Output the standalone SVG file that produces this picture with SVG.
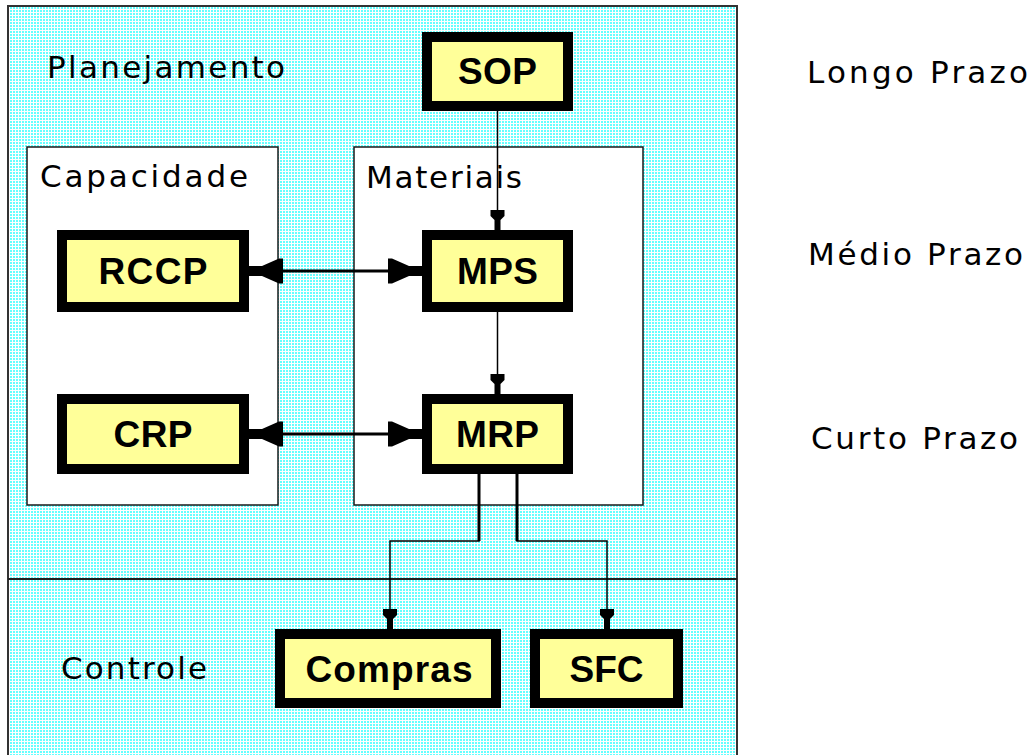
<svg xmlns="http://www.w3.org/2000/svg" width="1034" height="755" viewBox="0 0 1034 755">
  <defs>
    <pattern id="dither" patternUnits="userSpaceOnUse" x="0" y="0" width="3" height="3">
      <rect width="3" height="3" fill="#66ffff"/>
      <rect x="0" y="0" width="1" height="3" fill="#ffffff"/>
      <rect x="0" y="0" width="3" height="1" fill="#ffffff"/>
    </pattern>
    <marker id="arrSmall" markerUnits="userSpaceOnUse" markerWidth="24" markerHeight="20" viewBox="-22 -10 24 20" refX="0" refY="0" orient="auto">
      <path d="M0,-3 L-10,-3 L-14,-7 L-20,-7 L-20,7 L-14,7 L-10,3 L0,3 Z" fill="#000"/>
    </marker>
    <marker id="arrBig" markerUnits="userSpaceOnUse" markerWidth="40" markerHeight="30" viewBox="-36 -15 40 30" refX="0" refY="0" orient="auto-start-reverse">
      <path d="M0,-5 L-13,-5 L-30,-12.5 L-34,-12.5 L-34,12.5 L-30,12.5 L-13,5 L0,5 Z" fill="#000"/>
    </marker>
  </defs>
  <style>
    .lbl { font-family: "DejaVu Sans", "Liberation Sans", Arial, sans-serif; font-size: 31px; fill: #000; }
    .nodeText { font-family: "Liberation Sans", Arial, sans-serif; font-size: 37px; font-weight: bold; fill: #000; text-anchor: middle; }
    .node { fill: #ffff99; stroke: #000; stroke-width: 10; }
    .group { fill: #ffffff; stroke: #1a1a1a; stroke-width: 1.5; }
    .thin { fill: none; stroke: #000; stroke-width: 1.5; }
    .thick { fill: none; stroke: #000; stroke-width: 3; }
  </style>

  <rect x="0" y="0" width="1034" height="755" fill="#ffffff"/>

  <g id="region-planejamento">
    <rect x="8" y="6" width="729" height="770" fill="url(#dither)" stroke="#333" stroke-width="2"/>
    <line x1="8" y1="579" x2="737" y2="579" stroke="#222" stroke-width="2"/>
    <text class="lbl" x="47" y="78" textLength="238" lengthAdjust="spacing">Planejamento</text>
    <text class="lbl" x="61" y="679" textLength="146" lengthAdjust="spacing">Controle</text>
  </g>

  <g id="group-capacidade">
    <rect class="group" x="27" y="147" width="251" height="358"/>
    <text class="lbl" x="40" y="187" textLength="208" lengthAdjust="spacing">Capacidade</text>
  </g>

  <g id="group-materiais">
    <rect class="group" x="354" y="147" width="289" height="358"/>
    <text class="lbl" x="366" y="188" textLength="156" lengthAdjust="spacing">Materiais</text>
  </g>

  <g id="connectors">
    <line class="thin" x1="497.5" y1="111" x2="497.5" y2="230" marker-end="url(#arrSmall)"/>
    <line class="thin" x1="497.5" y1="312" x2="497.5" y2="394" marker-end="url(#arrSmall)"/>
    <line class="thick" x1="249" y1="271" x2="422" y2="271" marker-start="url(#arrBig)" marker-end="url(#arrBig)"/>
    <line class="thick" x1="249" y1="434" x2="422" y2="434" marker-start="url(#arrBig)" marker-end="url(#arrBig)"/>
    <path class="thin" d="M479,473 V541 H390 V629" marker-end="url(#arrSmall)"/>
    <path class="thin" d="M517,473 V541 H607 V629" marker-end="url(#arrSmall)"/>
    <line x1="479" y1="473" x2="479" y2="541" stroke="#000" stroke-width="3"/>
    <line x1="517" y1="473" x2="517" y2="541" stroke="#000" stroke-width="3"/>
  </g>

  <g id="node-sop">
    <rect class="node" x="427" y="37" width="141" height="69"/>
    <text class="nodeText" x="497.5" y="84" textLength="79" lengthAdjust="spacing">SOP</text>
  </g>
  <g id="node-mps">
    <rect class="node" x="427" y="235" width="141" height="72"/>
    <text class="nodeText" x="497.5" y="284" textLength="81" lengthAdjust="spacing">MPS</text>
  </g>
  <g id="node-mrp">
    <rect class="node" x="427" y="399" width="141" height="70"/>
    <text class="nodeText" x="497.5" y="447" textLength="83" lengthAdjust="spacing">MRP</text>
  </g>
  <g id="node-rccp">
    <rect class="node" x="62" y="235" width="182" height="72"/>
    <text class="nodeText" x="153" y="284" textLength="109" lengthAdjust="spacing">RCCP</text>
  </g>
  <g id="node-crp">
    <rect class="node" x="62" y="399" width="182" height="70"/>
    <text class="nodeText" x="153" y="447" textLength="79" lengthAdjust="spacing">CRP</text>
  </g>
  <g id="node-compras">
    <rect class="node" x="280" y="634" width="216" height="69"/>
    <text class="nodeText" x="389" y="682" textLength="167" lengthAdjust="spacing">Compras</text>
  </g>
  <g id="node-sfc">
    <rect class="node" x="535" y="634" width="143" height="69"/>
    <text class="nodeText" x="606.5" y="682" textLength="74" lengthAdjust="spacing">SFC</text>
  </g>

  <g id="horizon-labels">
    <text class="lbl" x="807" y="83" textLength="221" lengthAdjust="spacing">Longo Prazo</text>
    <text class="lbl" x="808" y="265" textLength="215" lengthAdjust="spacing">Médio Prazo</text>
    <text class="lbl" x="811" y="449" textLength="207" lengthAdjust="spacing">Curto Prazo</text>
  </g>
</svg>
